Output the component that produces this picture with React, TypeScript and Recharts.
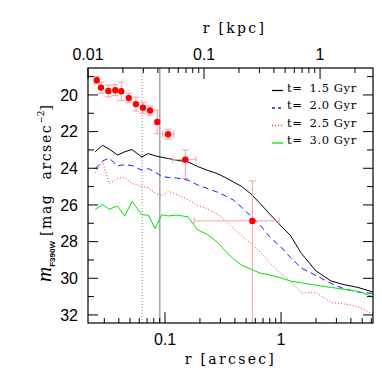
import React from 'react';
import {
  ComposedChart,
  Line,
  Scatter,
  ErrorBar,
  XAxis,
  YAxis,
  ReferenceLine,
} from 'recharts';

// model profiles, shared radius grid (arcsec)
const RADII = [
  0.025, 0.029, 0.033, 0.039, 0.045, 0.052, 0.063, 0.072, 0.082, 0.094,
  0.107, 0.126, 0.158, 0.19, 0.23, 0.28, 0.33, 0.39, 0.46, 0.55,
  0.66, 0.8, 1.0, 1.2, 1.5, 2.0, 2.7, 3.5, 4.6, 6.2,
];
const MAG_15 = [
  23.1, 22.75, 22.95, 23.28, 23.1, 22.98, 23.38, 23.2, 23.32, 23.4,
  23.47, 23.56, 23.65, 23.9, 24.1, 24.28, 24.5, 24.75, 25.0, 25.4,
  25.92, 26.5, 27.15, 27.65, 28.65, 29.6, 30.15, 30.35, 30.5, 30.75,
];
const MAG_20 = [
  24.02, 23.6, 23.44, 23.87, 23.8, 23.85, 24.1, 24.02, 24.2, 24.45,
  24.5, 24.53, 24.65, 24.9, 25.1, 25.29, 25.5, 25.74, 26.15, 26.6,
  27.1, 27.75, 28.3, 28.85, 29.45, 29.85, 30.28, 30.58, 30.75, 30.83,
];
const MAG_25 = [
  24.24, 23.65, 24.83, 24.55, 24.5, 24.83, 24.98, 25.08, 25.35, 25.5,
  25.25, 25.43, 25.7, 26.02, 26.2, 26.5, 26.85, 27.29, 27.7, 28.1,
  28.57, 29.15, 29.75, 30.15, 30.8, 30.78, 31.32, 31.4, 31.55, 31.95,
];
const MAG_30 = [
  26.24, 25.98, 26.24, 26.06, 26.6, 25.8, 26.53, 26.56, 27.29, 26.53,
  26.6, 26.55, 26.65, 27.35, 27.6, 28.0, 28.5, 28.95, 29.3, 29.5,
  29.72, 29.82, 29.98, 30.15, 30.25, 30.38, 30.5, 30.6, 30.72, 31.0,
];

// observed profile
const OBS_R = [
  0.0258, 0.0281, 0.0325, 0.0373, 0.042, 0.0487, 0.0562, 0.0646, 0.0743,
  0.0858, 0.1062, 0.1496, 0.566,
];
const OBS_M = [
  19.2, 19.6, 19.78, 19.74, 19.8, 20.16, 20.5, 20.7, 20.85, 21.47, 22.14,
  23.53, 26.87,
];
const OBS_M_ERR: (number | number[])[] = [
  0.2, 0.3, 0.32, 0.3, 0.5, 0.25, 0.38, 0.3, 0.25, 0.64, 0.27, [0.53, 1.03],
  [2.18, 5.57],
];
const OBS_R_ERR: (number[] | null)[] = [
  null, null, null, null, null, null, null, null, null, null,
  [0.0114, 0.0134], [0.033, 0.035], [0.388, 0.395],
];

const SERIES = [
  { key: 'm15', age: '1.5 Gyr', values: MAG_15 },
  { key: 'm20', age: '2.0 Gyr', values: MAG_20 },
  { key: 'm25', age: '2.5 Gyr', values: MAG_25 },
  { key: 'm30', age: '3.0 Gyr', values: MAG_30 },
];
const SERIES_STYLE: Record<string, { color: string; dash?: string; legendDash?: string }> = {
  m15: { color: '#000000' },
  m20: { color: '#1a1aff', dash: '6 4', legendDash: '3 3' },
  m25: { color: '#ff3030', dash: '1 2', legendDash: '1 2' },
  m30: { color: '#00e600' },
};

// marked radii (arcsec)
const MARK_DOTTED = 0.0635;
const MARK_SOLID = 0.0903;

const ARCSEC_TICKS = [
  0.03, 0.04, 0.05, 0.06, 0.07, 0.08, 0.09, 0.1, 0.2, 0.3, 0.4, 0.5, 0.6,
  0.7, 0.8, 0.9, 1, 2, 3, 4, 5, 6,
];
const ARCSEC_LABELS = [0.1, 1];
const KPC_TICKS = [
  0.01, 0.02, 0.03, 0.04, 0.05, 0.06, 0.07, 0.08, 0.09, 0.1, 0.2, 0.3, 0.4,
  0.5, 0.6, 0.7, 0.8, 0.9, 1, 2,
];
const KPC_LABELS = [0.01, 0.1, 1];
const MAG_TICKS = [19, 20, 21, 22, 23, 24, 25, 26, 27, 28, 29, 30, 31, 32];
const MAG_LABELS = [20, 22, 24, 26, 28, 30, 32];

const KPC_PER_ARCSEC = 0.461;
const ARCSEC_DOMAIN = [0.0217, 6.2];
const KPC_DOMAIN = ARCSEC_DOMAIN.map((v) => v * KPC_PER_ARCSEC);
const MAG_DOMAIN = [18.53, 32.44];

// layout
const CHART = 382;
const LEFT_W = 88;
const RIGHT_W = 9;
const TOP_H = 68;
const BOTTOM_H = 59;
const PLOT_W = CHART - LEFT_W - RIGHT_W;
const PLOT_H = CHART - TOP_H - BOTTOM_H;

// same mapping as the chart's log x / reversed y axes, for the frame ticks only
const xPix = (a: number) =>
  LEFT_W + (PLOT_W * Math.log10(a / ARCSEC_DOMAIN[0])) / Math.log10(ARCSEC_DOMAIN[1] / ARCSEC_DOMAIN[0]);
const yPix = (m: number) =>
  TOP_H + (PLOT_H * (m - MAG_DOMAIN[0])) / (MAG_DOMAIN[1] - MAG_DOMAIN[0]);

const profileRows = RADII.map((r, i) => {
  const row: Record<string, number> = { r, kpc: r * KPC_PER_ARCSEC };
  SERIES.forEach((s) => (row[s.key] = s.values[i]));
  return row;
});

const obsRows = OBS_R.map((r, i) => ({
  r,
  m: OBS_M[i],
  mErr: OBS_M_ERR[i],
  rErr: OBS_R_ERR[i],
}));

const SANS = '"Liberation Sans", Arial, sans-serif';
const SERIF = '"DejaVu Serif", serif';

const BottomTick = (p: any) =>
  ARCSEC_LABELS.includes(p.payload.value) ? (
    <text x={p.x} y={p.y + 14} textAnchor="middle" fontSize={16} fontFamily={SANS} fill="#000">
      {p.payload.value}
    </text>
  ) : (
    <g />
  );

const TopTick = (p: any) =>
  KPC_LABELS.includes(p.payload.value) ? (
    <text x={p.x} y={p.y} textAnchor="middle" fontSize={16} fontFamily={SANS} fill="#000">
      {p.payload.value}
    </text>
  ) : (
    <g />
  );

const LeftTick = (p: any) =>
  MAG_LABELS.includes(p.payload.value) ? (
    <text x={p.x - 2} y={p.y} dy="0.36em" textAnchor="end" fontSize={16} fontFamily={SANS} fill="#000">
      {p.payload.value}
    </text>
  ) : (
    <g />
  );

const BottomTitle = (p: any) => (
  <text
    x={p.viewBox.x + p.viewBox.width / 2}
    y={p.viewBox.y + 41}
    textAnchor="middle"
    fontSize={14}
    letterSpacing={2.3}
    fontFamily={SERIF}
    fill="#000"
  >
    r [arcsec]
  </text>
);

const TopTitle = (p: any) => (
  <text
    x={p.viewBox.x + p.viewBox.width / 2 + 4}
    y={p.viewBox.y + 33}
    textAnchor="middle"
    fontSize={14}
    letterSpacing={2.3}
    fontFamily={SERIF}
    fill="#000"
  >
    r [kpc]
  </text>
);

const LeftTitle = (p: any) => {
  const bx = p.viewBox.x + 51;
  const cy = p.viewBox.y + p.viewBox.height / 2 - 2;
  return (
    <g transform={`translate(${bx}, ${cy}) rotate(-90)`}>
      <text x={0} y={0} textAnchor="middle" fill="#000">
        <tspan fontFamily='"Liberation Serif", serif' fontStyle="italic" fontSize={21}>
          m
        </tspan>
        <tspan fontFamily={SANS} fontWeight="bold" fontSize={8} dy={4}>
          F390W
        </tspan>
        <tspan fontFamily={SERIF} fontSize={14} letterSpacing={1.6} dx={5} dy={-4}>
          [mag
        </tspan>
        <tspan fontFamily={SERIF} fontSize={14} letterSpacing={1.6} dx={14}>
          arcsec
        </tspan>
        <tspan fontFamily={SERIF} fontSize={9} dy={-7}>
          −2
        </tspan>
        <tspan fontFamily={SERIF} fontSize={14} dy={7}>
          ]
        </tspan>
      </text>
    </g>
  );
};

// legend drawn as the right axis label, anchored to the plot's right edge
const LegendLabel = (p: any) => {
  const right = p.viewBox.x;
  const top = p.viewBox.y;
  return (
    <g>
      {SERIES.map((s, i) => {
        const st = SERIES_STYLE[s.key];
        const by = top + 23.5 + i * 17.5;
        return (
          <g key={s.key}>
            <path
              d={`M${right - 101},${by - 1}H${right - 90}`}
              stroke={st.color}
              strokeDasharray={st.legendDash}
              strokeWidth={1.3}
            />
            <text x={right - 86} y={by} fontFamily={SERIF} fontSize={11.5} letterSpacing={0.6} fill="#000">
              <tspan>t=</tspan>
              <tspan dx={7}>{s.age}</tspan>
            </text>
          </g>
        );
      })}
    </g>
  );
};

// box frame with inward ticks, drawn over the chart
const Frame = () => (
  <svg
    width={CHART}
    height={CHART}
    style={{ position: 'absolute', left: 0, top: 0, pointerEvents: 'none' }}
  >
    <rect x={LEFT_W} y={TOP_H} width={PLOT_W} height={PLOT_H} fill="none" stroke="#000" strokeWidth={1.2} />
    {ARCSEC_TICKS.map((v) => {
      const x = xPix(v);
      const len = ARCSEC_LABELS.includes(v) ? 11 : 5;
      return <line key={`b${v}`} x1={x} x2={x} y1={TOP_H + PLOT_H} y2={TOP_H + PLOT_H - len} stroke="#000" />;
    })}
    {KPC_TICKS.map((v) => {
      const x = xPix(v / KPC_PER_ARCSEC);
      const len = KPC_LABELS.includes(v) ? 11 : 5;
      return <line key={`t${v}`} x1={x} x2={x} y1={TOP_H} y2={TOP_H + len} stroke="#000" />;
    })}
    {MAG_TICKS.map((m) => {
      const y = yPix(m);
      const len = MAG_LABELS.includes(m) ? 10 : 6;
      return (
        <g key={`m${m}`}>
          <line x1={LEFT_W} x2={LEFT_W + len} y1={y} y2={y} stroke="#000" />
          <line x1={LEFT_W + PLOT_W} x2={LEFT_W + PLOT_W - len} y1={y} y2={y} stroke="#000" />
        </g>
      );
    })}
  </svg>
);

export default function App() {
  return (
    <div style={{ position: 'absolute', left: 0, top: 0, width: CHART, height: CHART, background: '#fff' }}>
      <ComposedChart
        width={CHART}
        height={CHART}
        data={profileRows}
        margin={{ top: 0, right: 0, bottom: 0, left: 0 }}
      >
        <XAxis
          xAxisId="arcsec"
          dataKey="r"
          type="number"
          scale="log"
          domain={ARCSEC_DOMAIN}
          allowDataOverflow
          orientation="bottom"
          height={BOTTOM_H}
          ticks={ARCSEC_TICKS}
          interval={0}
          tickSize={0}
          tickMargin={8}
          tickLine={false}
          tick={BottomTick}
          axisLine={false}
          label={<BottomTitle />}
        />
        <XAxis
          xAxisId="kpc"
          dataKey="kpc"
          type="number"
          scale="log"
          domain={KPC_DOMAIN}
          allowDataOverflow
          orientation="top"
          height={TOP_H}
          ticks={KPC_TICKS}
          interval={0}
          tickSize={0}
          tickMargin={8}
          tickLine={false}
          tick={TopTick}
          axisLine={false}
          label={<TopTitle />}
        />
        <YAxis
          yAxisId="mag"
          type="number"
          domain={MAG_DOMAIN}
          reversed
          allowDataOverflow
          width={LEFT_W}
          ticks={MAG_TICKS}
          interval={0}
          tickSize={0}
          tickMargin={8}
          tickLine={false}
          tick={LeftTick}
          axisLine={false}
          label={<LeftTitle />}
        />
        <YAxis
          yAxisId="magR"
          orientation="right"
          type="number"
          domain={MAG_DOMAIN}
          reversed
          allowDataOverflow
          width={RIGHT_W}
          tick={false}
          tickLine={false}
          axisLine={false}
          label={<LegendLabel />}
        />
        <ReferenceLine
          xAxisId="arcsec"
          yAxisId="mag"
          x={MARK_DOTTED}
          stroke="#8a8a8a"
          strokeDasharray="1 2"
        />
        <ReferenceLine xAxisId="arcsec" yAxisId="mag" x={MARK_SOLID} stroke="#7a7a7a" />
        {/* invisible copy that ties the kpc / right axes to the data */}
        <Line
          xAxisId="kpc"
          yAxisId="magR"
          dataKey="m15"
          stroke="none"
          dot={false}
          activeDot={false}
          isAnimationActive={false}
        />
        {SERIES.map((s) => (
          <Line
            key={s.key}
            xAxisId="arcsec"
            yAxisId="mag"
            dataKey={s.key}
            name={`t= ${s.age}`}
            type="linear"
            stroke={SERIES_STYLE[s.key].color}
            strokeDasharray={SERIES_STYLE[s.key].dash}
            strokeWidth={1}
            dot={false}
            activeDot={false}
            isAnimationActive={false}
          />
        ))}
        <Scatter
          xAxisId="arcsec"
          yAxisId="mag"
          data={obsRows}
          dataKey="m"
          isAnimationActive={false}
          shape={(p: any) => <circle cx={p.cx} cy={p.cy} r={3.2} fill="#ff0000" />}
        >
          <ErrorBar dataKey="mErr" direction="y" width={3.5} stroke="#ff9c9c" strokeWidth={1} />
          <ErrorBar dataKey="rErr" direction="x" width={3.5} stroke="#ff9c9c" strokeWidth={1} />
        </Scatter>
      </ComposedChart>
      <Frame />
    </div>
  );
}
